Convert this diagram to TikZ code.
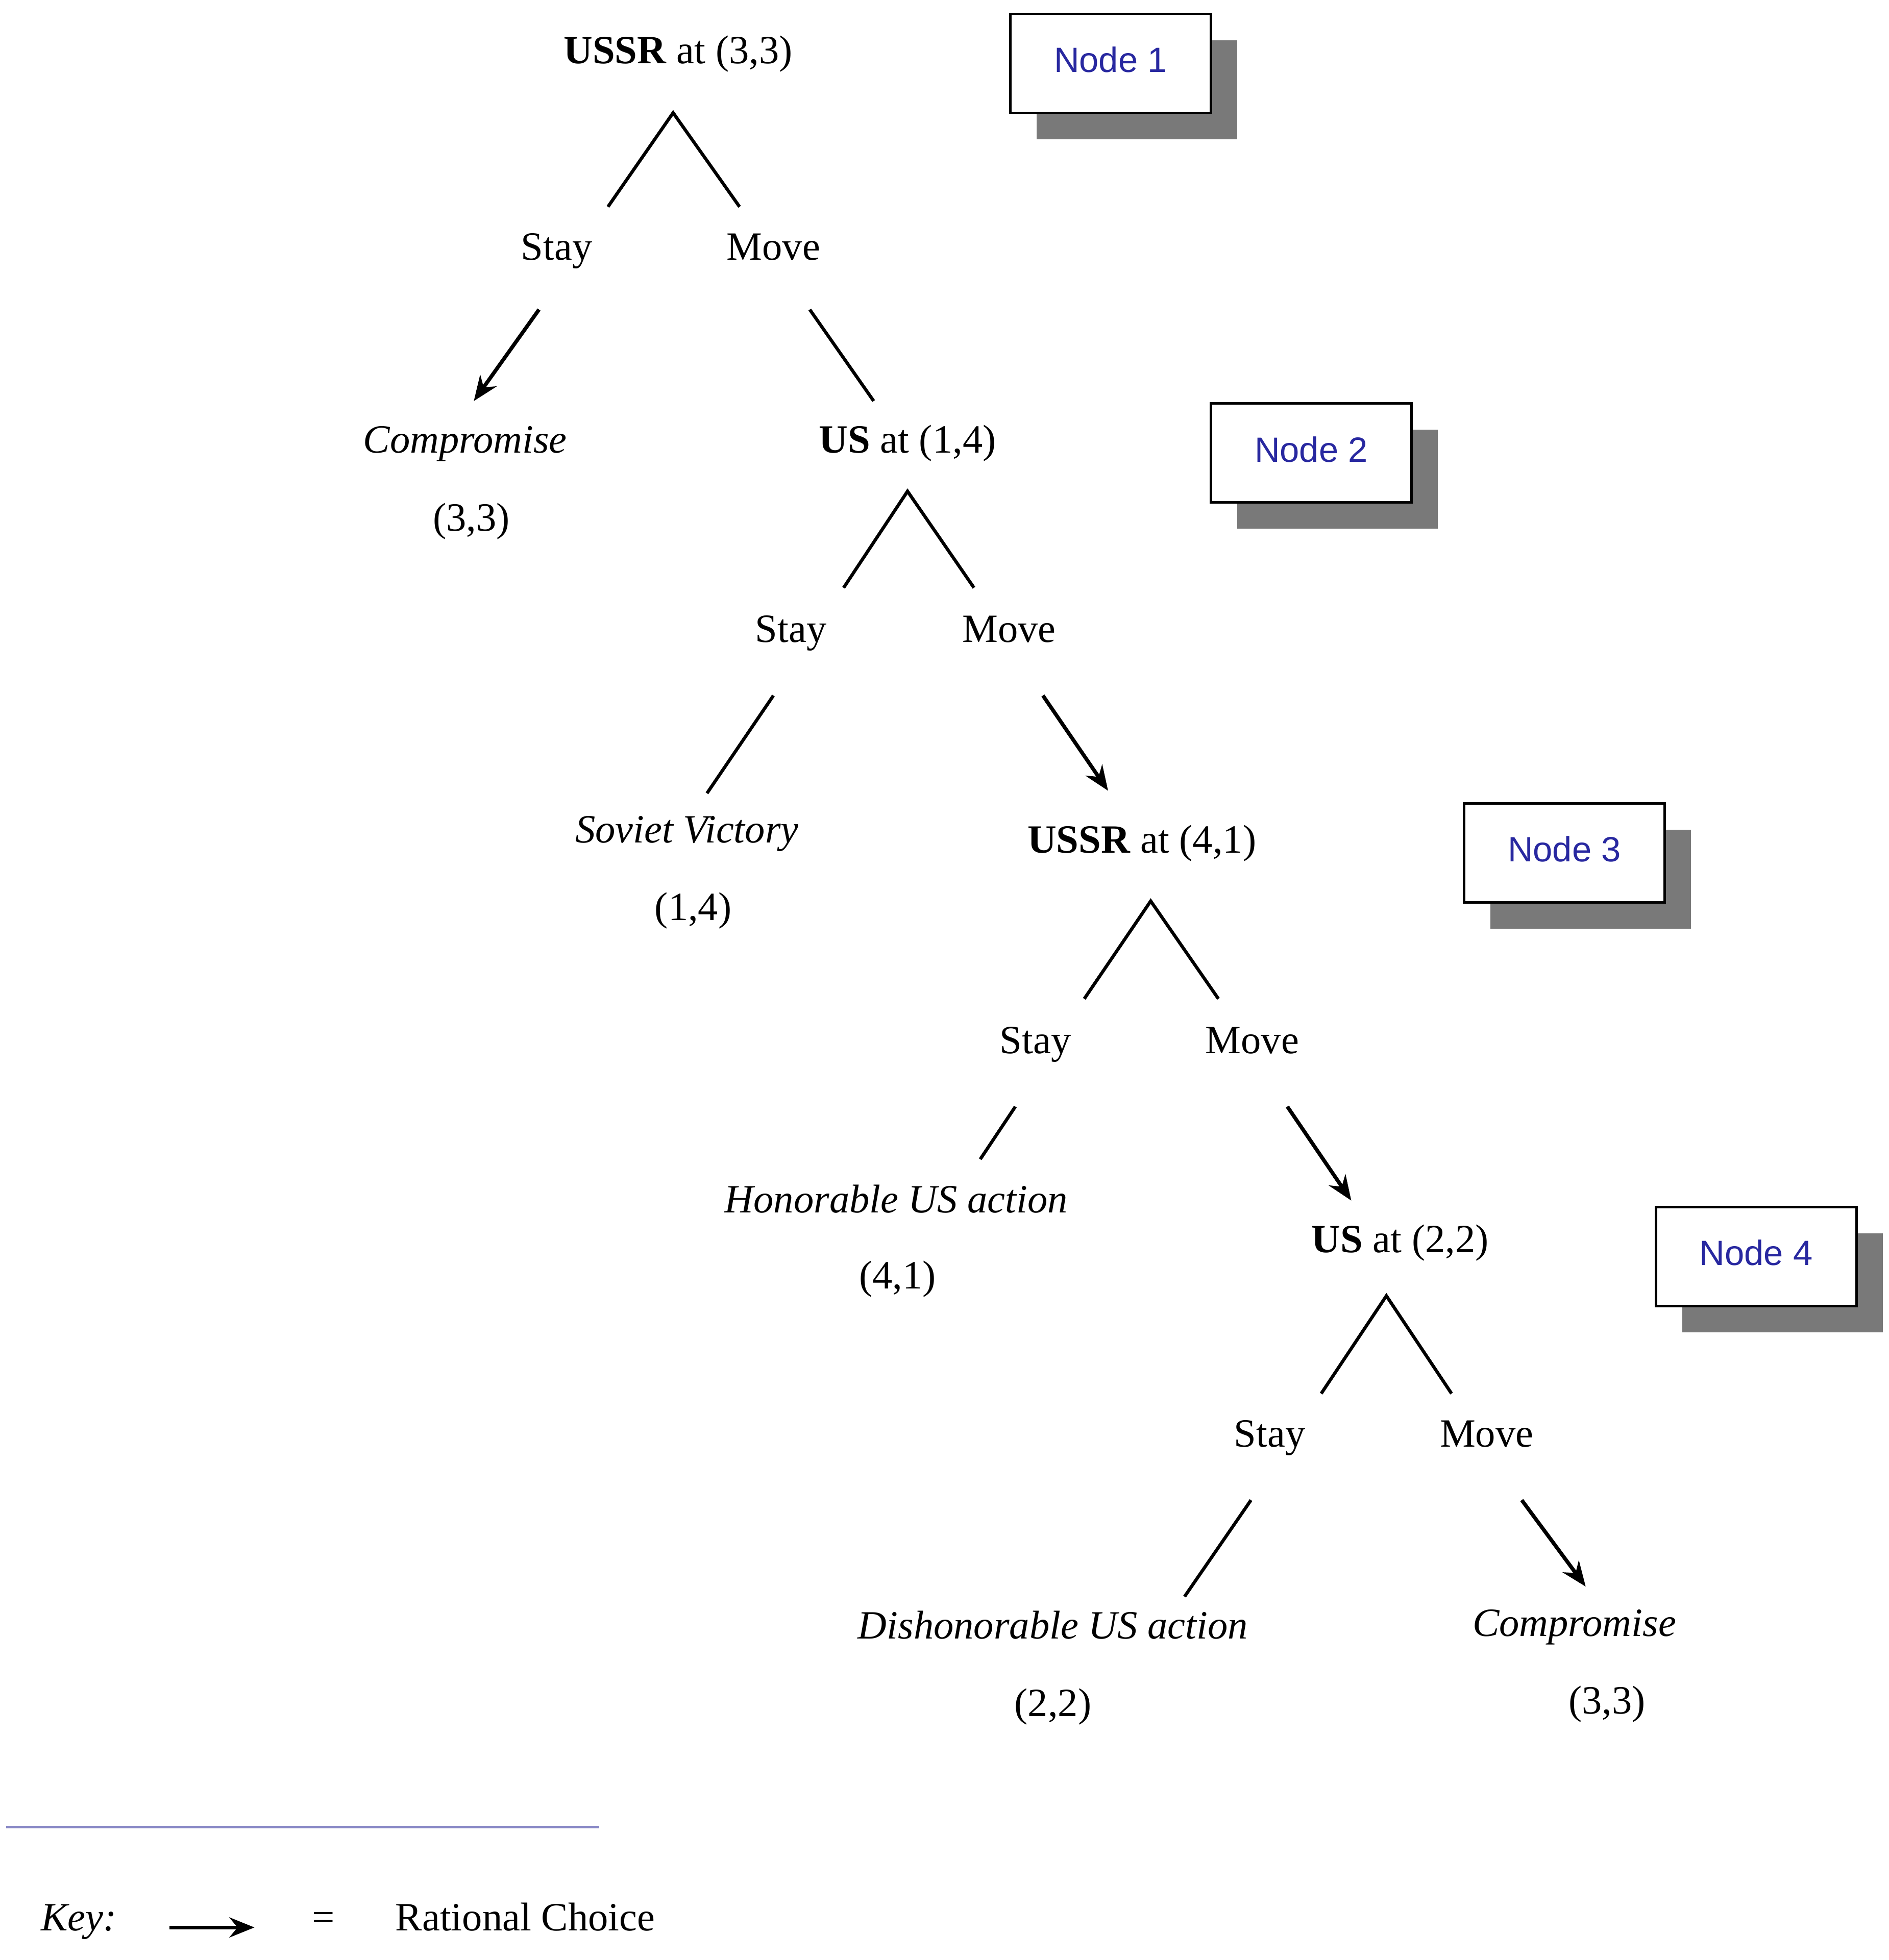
\documentclass[tikz,border=0pt]{standalone}
\usepackage{fontspec}
\setmainfont{Liberation Serif}
\newfontfamily\boxfont{Liberation Sans}
\usetikzlibrary{arrows.meta}
\definecolor{navy}{RGB}{40,40,160}
\begin{document}
\begin{tikzpicture}[x=0.5pt,y=-0.5pt,
  txt/.style={font=\fontsize{16}{18}\selectfont,inner sep=0pt,text height=11pt,text depth=3.5pt},
  it/.style={txt,font=\fontsize{16}{18}\selectfont\itshape},
  ln/.style={line width=1.3pt},
  ar/.style={line width=1.5pt,-{Stealth[length=10pt,width=8pt]}},
  nbox/.style={draw,line width=1pt,fill=white,minimum width=80pt,minimum height=39.5pt,font=\boxfont\fontsize{14}{16}\selectfont,text=navy},
  shadow/.style={fill=gray!90!black}]
\useasboundingbox (0,0) rectangle (1507,1564);
% Node boxes
\foreach \x/\y/\n in {805/10/1,965/321/2,1167/640/3,1320/962/4}{
  \fill[gray!95!black] (\x+22,\y+22) rectangle (\x+182,\y+101);
  \node[nbox,anchor=north west] (box\n) at (\x,\y) {\raisebox{3pt}{Node \n}};
}
% Level 1
\node[txt] (r1) at (541,43) {\textbf{USSR} at (3,3)};
\coordinate (a1) at (537,90);
\coordinate (a1l) at (485,165);
\coordinate (a1r) at (590,165);
\draw[ln] (a1l) -- (a1) -- (a1r);
\node[txt] (s1) at (444,200) {Stay};
\node[txt] (m1) at (617,200) {Move};
\coordinate (s1a) at (430,247); \coordinate (s1b) at (378,320);
\draw[ar] (s1a) -- (s1b);
\coordinate (m1a) at (646,247); \coordinate (m1b) at (697,320);
\draw[ln] (m1a) -- (m1b);
\node[it] (c1) at (371,354) {Compromise};
\node[txt] (c1v) at (376,416) {(3,3)};
% Level 2
\node[txt] (r2) at (724,354) {\textbf{US} at (1,4)};
\coordinate (a2) at (724,392);
\coordinate (a2l) at (673,469);
\coordinate (a2r) at (777,469);
\draw[ln] (a2l) -- (a2) -- (a2r);
\node[txt] (s2) at (631,505) {Stay};
\node[txt] (m2) at (805,505) {Move};
\coordinate (s2a) at (617,555); \coordinate (s2b) at (564,633);
\draw[ln] (s2a) -- (s2b);
\coordinate (m2a) at (832,555); \coordinate (m2b) at (884,631);
\draw[ar] (m2a) -- (m2b);
\node[it] (c2) at (548,665) {Soviet Victory};
\node[txt] (c2v) at (553,727) {(1,4)};
% Level 3
\node[txt] (r3) at (911,673) {\textbf{USSR} at (4,1)};
\coordinate (a3) at (918,719);
\coordinate (a3l) at (865,797);
\coordinate (a3r) at (972,797);
\draw[ln] (a3l) -- (a3) -- (a3r);
\node[txt] (s3) at (826,833) {Stay};
\node[txt] (m3) at (999,833) {Move};
\coordinate (s3a) at (810,883); \coordinate (s3b) at (782,925);
\draw[ln] (s3a) -- (s3b);
\coordinate (m3a) at (1027,883); \coordinate (m3b) at (1078,958);
\draw[ar] (m3a) -- (m3b);
\node[it] (c3) at (715,960) {Honorable US action};
\node[txt] (c3v) at (716,1021) {(4,1)};
% Level 4
\node[txt] (r4) at (1117,992) {\textbf{US} at (2,2)};
\coordinate (a4) at (1106,1034);
\coordinate (a4l) at (1054,1112);
\coordinate (a4r) at (1158,1112);
\draw[ln] (a4l) -- (a4) -- (a4r);
\node[txt] (s4) at (1013,1147) {Stay};
\node[txt] (m4) at (1186,1147) {Move};
\coordinate (s4a) at (998,1197); \coordinate (s4b) at (945,1274);
\draw[ln] (s4a) -- (s4b);
\coordinate (m4a) at (1214,1197); \coordinate (m4b) at (1265,1266);
\draw[ar] (m4a) -- (m4b);
\node[it] (c4) at (840,1300) {Dishonorable US action};
\node[txt] (c4v) at (840,1362) {(2,2)};
\node[it] (c5) at (1256,1298) {Compromise};
\node[txt] (c5v) at (1282,1360) {(3,3)};
% Key
\coordinate (k1) at (5,1458); \coordinate (k2) at (478,1458);
\draw[line width=1pt,color=blue!35!gray!70] (k1) -- (k2);
\node[it] (key) at (63,1533) {Key:};
\coordinate (ka) at (135,1538); \coordinate (kb) at (203,1538);
\draw[ar] (ka) -- (kb);
\node[txt] (eq) at (258,1533) {=};
\node[txt] (rc) at (419,1533) {Rational Choice};
\end{tikzpicture}
\end{document}
